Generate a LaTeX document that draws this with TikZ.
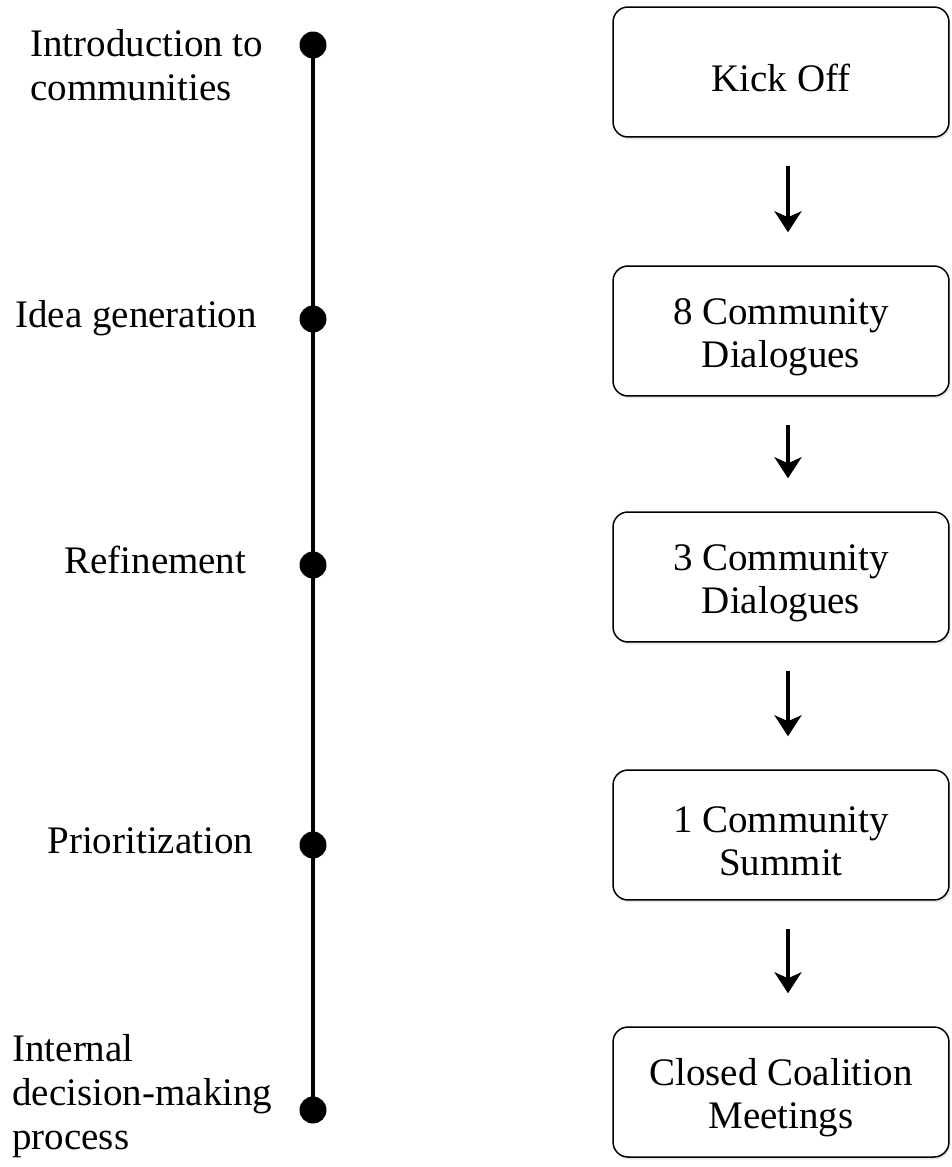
\documentclass[tikz,border=0pt]{standalone}
\usepackage{fontspec}
\setmainfont{Liberation Serif}
\usetikzlibrary{arrows.meta,shadows,positioning}
\tikzstyle{phase}=[font=\fontsize{22.2}{25}\selectfont, inner sep=0pt, align=left]
\tikzstyle{stage}=[draw, rounded corners=0.3cm, line width=0.03cm, fill=white,
                minimum width=6.72cm, minimum height=2.6cm, inner sep=0pt, align=center,
                text height=0.78cm, font=\fontsize{22.2}{24.5}\selectfont,
                drop shadow={opacity=0.18,shadow xshift=0.03cm,shadow yshift=-0.05cm}]
\tikzstyle{twoline}=[text height=1.64cm]
\tikzstyle{tdot}=[circle, fill=black, inner sep=0pt, minimum size=0.54cm]
\tikzstyle{flow}=[->, line width=0.08cm, shorten <=0.56cm, shorten >=0.66cm]

\begin{document}
\begin{tikzpicture}[>={Stealth[length=0.42cm,width=0.54cm,inset=0.12cm]},x=0.02cm,y=-0.02cm]

\useasboundingbox (0,0) rectangle (951,1167);

% % % % % % % % % % % % % % %

\foreach \n/\y in {1/45,2/319,3/565,4/845,5/1110} {
\node[tdot] (t\n) at (313,\y) {};
}
\draw[line width=0.09cm] (t1.center) -- (t5.center);

\node[phase, anchor=north west] (intro) at (30,29) {Introduction to\\communities};
\node[phase, anchor=base west] (idea) at (15,327) {Idea generation};
\node[phase, anchor=base west] (refine) at (64,573) {Refinement};
\node[phase, anchor=base west] (prior) at (47,853) {Prioritization};
\node[phase, anchor=north west] (internal) at (12,1034) {Internal\\decision-making\\process};

% % % % % % % % % % % % % % %

\node[stage] (kick) at (781,72) {Kick Off};
\node[stage, twoline] (dlg8) at (781,331) {8 Community\\Dialogues};
\node[stage, twoline] (dlg3) at (781,577) {3 Community\\Dialogues};
\node[stage, twoline] (summit) at (781,835) {1 Community\\Summit};
\node[stage, twoline] (closed) at (781,1092) {Closed Coalition\\Meetings};

\draw[flow] ([xshift=0.14cm]kick.south) -- ([xshift=0.14cm]dlg8.north);
\draw[flow] ([xshift=0.14cm]dlg8.south) -- ([xshift=0.14cm]dlg3.north);
\draw[flow] ([xshift=0.14cm]dlg3.south) -- ([xshift=0.14cm]summit.north);
\draw[flow] ([xshift=0.14cm]summit.south) -- ([xshift=0.14cm]closed.north);

\end{tikzpicture}
\end{document}
